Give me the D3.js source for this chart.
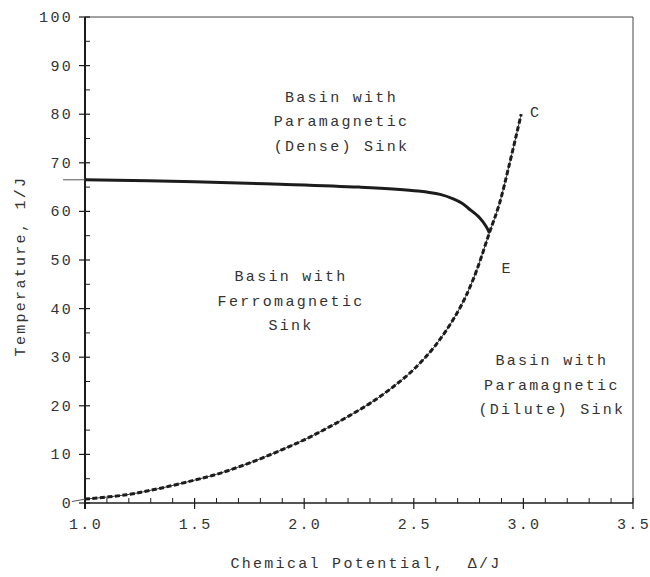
<!DOCTYPE html>
<html>
<head>
<meta charset="utf-8">
<script src="https://cdn.jsdelivr.net/npm/d3@7"></script>
<style>
    body { margin: 0; background: #fff; }
    svg text { font-family: "Liberation Mono", "Courier New", monospace; fill: #333; }
</style>
</head>
<body>
<div id="chart"></div>
<script>
// Coexistence line (solid) - Δ/J vs T
const solidDelta = [1.0, 1.5, 1.89, 2.25, 2.52, 2.62, 2.68, 2.72, 2.75, 2.80, 2.83, 2.845];
const solidTemp  = [66.5, 66.1, 65.6, 65.0, 64.2, 63.5, 62.6, 61.7, 60.6, 58.7, 56.9, 55.6];

// dilute boundary (dashed), from origin up to C
const dashDelta = [1.0, 1.19, 1.34, 1.49, 1.6, 1.7, 1.8, 1.9, 2.0, 2.1, 2.2, 2.3, 2.4, 2.5, 2.6, 2.7, 2.77, 2.845, 2.89, 2.935, 2.99];
const dashTemp  = [0.8, 1.7, 3.0, 4.6, 5.9, 7.4, 9.1, 11.0, 13.0, 15.3, 17.8, 20.5, 23.7, 27.5, 32.5, 39.3, 45.9, 55.6, 61.5, 69.5, 80.0];

// short stubs poking out left of the axis
const stubSolid = [[0.9, 66.5], [1.0, 66.5]];
const stubDash = [[0.94, 0.3], [1.0, 0.8]];

const xTicks = [1.0, 1.5, 2.0, 2.5, 3.0, 3.5];
const yTicks = [0, 10, 20, 30, 40, 50, 60, 70, 80, 90, 100];

const regionLabels = [
    { x: 2.17, y: 82.6, lines: ['Basin with', 'Paramagnetic', '(Dense) Sink'] },
    { x: 1.94, y: 45.6, lines: ['Basin with', 'Ferromagnetic', 'Sink'] },
    { x: 3.13, y: 28.3, lines: ['Basin with', 'Paramagnetic', '(Dilute) Sink'] }
];
const pointLabels = [
    { x: 3.03, y: 79.4, text: 'C' },
    { x: 2.9, y: 47.3, text: 'E' }
];

const width = 650, height = 577;
const svg = d3.select('#chart').append('svg')
    .attr('width', width)
    .attr('height', height);

const x = d3.scaleLinear().domain([1.0, 3.5]).range([85, 633]);
const y = d3.scaleLinear().domain([0, 100]).range([503, 17]);

const ink = '#1c1c1c';

// frame: top and right
svg.append('line')
    .attr('x1', x(1)).attr('x2', x(3.5))
    .attr('y1', y(100)).attr('y2', y(100))
    .attr('stroke', '#444').attr('stroke-width', 1);
svg.append('line')
    .attr('x1', x(3.5)).attr('x2', x(3.5))
    .attr('y1', y(100)).attr('y2', y(0))
    .attr('stroke', '#444').attr('stroke-width', 1);

// x axis
const xAxis = svg.append('g').attr('transform', `translate(0,${y(0)})`);
xAxis.append('line')
    .attr('x1', x(1)).attr('x2', x(3.5))
    .attr('stroke', ink).attr('stroke-width', 1.5);
xAxis.selectAll('.minor')
    .data(d3.range(10, 35).map(d => d / 10).filter(d => Math.abs(d * 2 - Math.round(d * 2)) > 1e-6))
    .enter().append('line')
    .attr('x1', d => x(d)).attr('x2', d => x(d))
    .attr('y1', 0).attr('y2', -5)
    .attr('stroke', ink).attr('stroke-width', 1);
xAxis.selectAll('.major')
    .data(xTicks)
    .enter().append('line')
    .attr('x1', d => x(d)).attr('x2', d => x(d))
    .attr('y1', -5).attr('y2', 6)
    .attr('stroke', ink).attr('stroke-width', 1.2);
xAxis.selectAll('text')
    .data(xTicks)
    .enter().append('text')
    .attr('x', d => x(d) + 1)
    .attr('y', 26)
    .attr('text-anchor', 'middle')
    .attr('font-size', '15px')
    .attr('letter-spacing', '2.3px')
    .text(d => d.toFixed(1));

// y axis
const yAxis = svg.append('g').attr('transform', `translate(${x(1)},0)`);
yAxis.append('line')
    .attr('y1', y(0) + 6).attr('y2', y(100))
    .attr('stroke', ink).attr('stroke-width', 2);
yAxis.selectAll('.minor')
    .data(d3.range(5, 100, 10))
    .enter().append('line')
    .attr('y1', d => y(d)).attr('y2', d => y(d))
    .attr('x1', 0).attr('x2', 5)
    .attr('stroke', ink).attr('stroke-width', 1);
yAxis.selectAll('.major')
    .data(yTicks)
    .enter().append('line')
    .attr('y1', d => y(d)).attr('y2', d => y(d))
    .attr('x1', -6).attr('x2', 5)
    .attr('stroke', ink).attr('stroke-width', 1.2);
yAxis.selectAll('text')
    .data(yTicks)
    .enter().append('text')
    .attr('x', -12)
    .attr('y', d => y(d) + 5)
    .attr('text-anchor', 'end')
    .attr('font-size', '15px')
    .attr('letter-spacing', '2.3px')
    .text(d => d);

// axis titles
svg.append('text')
    .attr('x', 366).attr('y', 568)
    .attr('text-anchor', 'middle')
    .attr('font-size', '15px')
    .attr('letter-spacing', '2.3px')
    .attr('xml:space', 'preserve')
    .text('Chemical Potential,  Δ/J');
svg.append('text')
    .attr('transform', 'translate(25,266) rotate(-90)')
    .attr('text-anchor', 'middle')
    .attr('font-size', '15px')
    .attr('letter-spacing', '2.3px')
    .text('Temperature, 1/J');

const line = d3.line().x(d => x(d[0])).y(d => y(d[1])).curve(d3.curveCatmullRom);

// stubs left of the axis
[stubSolid, stubDash].forEach(s => {
    svg.append('path')
        .attr('d', d3.line().x(d => x(d[0])).y(d => y(d[1]))(s))
        .attr('fill', 'none')
        .attr('stroke', '#555')
        .attr('stroke-width', 1);
});

// dashed boundary: thin solid under a thick dashed stroke
const dashPts = dashDelta.map((d, i) => [d, dashTemp[i]]);
svg.append('path')
    .attr('d', line(dashPts))
    .attr('fill', 'none')
    .attr('stroke', '#333')
    .attr('stroke-width', 1);
svg.append('path')
    .attr('d', line(dashPts))
    .attr('fill', 'none')
    .attr('stroke', ink)
    .attr('stroke-width', 3)
    .attr('stroke-dasharray', '5,2.5');

// solid coexistence line
const solidPts = solidDelta.map((d, i) => [d, solidTemp[i]]);
svg.append('path')
    .attr('d', line(solidPts))
    .attr('fill', 'none')
    .attr('stroke', ink)
    .attr('stroke-width', 3);

// region labels
regionLabels.forEach(r => {
    const t = svg.append('text')
        .attr('text-anchor', 'middle')
        .attr('font-size', '15px')
        .attr('letter-spacing', '2.3px');
    r.lines.forEach((l, i) => {
        t.append('tspan')
            .attr('x', x(r.x))
            .attr('y', y(r.y) + i * 24.5)
            .text(l);
    });
});

pointLabels.forEach(p => {
    svg.append('text')
        .attr('x', x(p.x)).attr('y', y(p.y))
        .attr('font-size', '15px')
        .text(p.text);
});
</script>
</body>
</html>
